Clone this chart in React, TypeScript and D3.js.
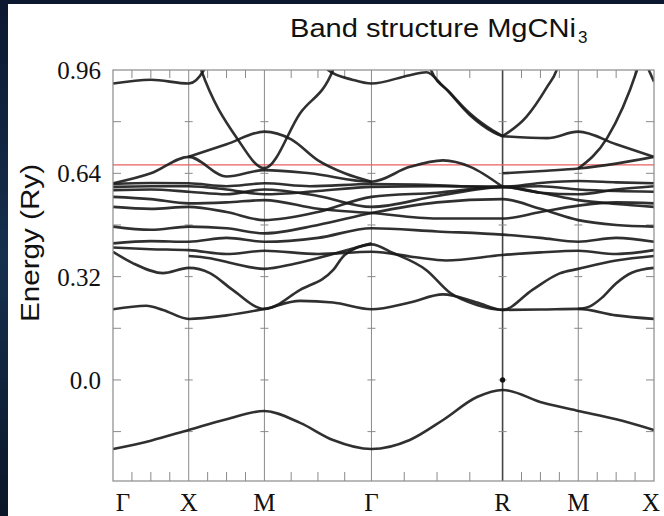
import React from 'react';
import * as d3 from 'd3';

const W = 664, H = 516;
const symLabels = ['Γ', 'X', 'M', 'Γ', 'R', 'M', 'X'];
const symK = [0, 0.5, 1.0, 1.707, 2.573, 3.073, 3.573];
const yTickValues = [0.0, 0.32, 0.64, 0.96];
const yTickLabels = ['0.0', '0.32', '0.64', '0.96'];
const yMinorTicks = [-0.16, 0, 0.16, 0.32, 0.48, 0.64, 0.8];
const fermiLevel = 0.666;
const gammaDot = [2.573, 0.0];
const titleText = 'Band structure MgCNi';
const titleSub = '3';
const yAxisTitle = 'Energy (Ry)';

// bands: [k, E(Ry)]
const bandLow = [[0,-0.214],[0.25,-0.188],[0.5,-0.155],[0.75,-0.122],[1.0,-0.096],[1.236,-0.133],[1.453,-0.186],[1.707,-0.214],[1.96,-0.186],[2.18,-0.124],[2.404,-0.053],[2.573,-0.031],[2.84,-0.071],[3.073,-0.096],[3.323,-0.122],[3.573,-0.155]];
const bandA = [[0,0.219],[0.22,0.23],[0.33,0.217],[0.5,0.189],[0.75,0.2],[1.0,0.22],[1.236,0.245],[1.453,0.24],[1.707,0.219],[1.96,0.24],[2.18,0.265],[2.404,0.24],[2.573,0.217],[2.823,0.218],[3.073,0.22],[3.323,0.2],[3.573,0.189]];
const bandB = [[0,0.397],[0.13,0.362],[0.33,0.331],[0.5,0.347],[0.64,0.331],[0.79,0.279],[1.0,0.22],[1.236,0.279],[1.453,0.34],[1.53,0.387],[1.707,0.42],[1.85,0.393],[2.07,0.34],[2.226,0.27],[2.404,0.232],[2.573,0.217],[2.77,0.279],[2.95,0.33],[3.073,0.344],[3.323,0.37],[3.573,0.384]];
const bandC = [[3.073,0.22],[3.15,0.228],[3.23,0.255],[3.32,0.298],[3.43,0.333],[3.573,0.347]];
const bandD = [[0,0.41],[0.25,0.405],[0.5,0.402],[0.75,0.39],[1.0,0.4],[1.354,0.39],[1.707,0.397],[2.0,0.38],[2.2,0.37],[2.573,0.387],[2.823,0.395],[3.073,0.4],[3.323,0.39],[3.573,0.402]];
const bandD2 = [[0.5,0.384],[0.64,0.377],[0.8,0.36],[1.0,0.344],[1.2,0.36],[1.453,0.39],[1.707,0.423]];
const bandK = [[0,0.423],[0.25,0.43],[0.5,0.428],[0.75,0.44],[1.0,0.428],[1.354,0.44],[1.707,0.47],[2.14,0.46],[2.573,0.45],[2.823,0.44],[3.073,0.428],[3.323,0.44],[3.573,0.428]];
const bandE = [[0,0.475],[0.25,0.465],[0.5,0.475],[0.75,0.47],[1.0,0.454],[1.354,0.48],[1.707,0.517],[2.14,0.55],[2.573,0.56],[2.823,0.53],[3.073,0.495],[3.323,0.48],[3.573,0.475]];
const bandF = [[0,0.536],[0.25,0.53],[0.5,0.536],[0.75,0.52],[1.0,0.495],[1.354,0.52],[1.707,0.567],[2.14,0.58],[2.573,0.598],[2.823,0.58],[3.073,0.557],[3.323,0.545],[3.573,0.536]];
const bandG = [[0,0.567],[0.25,0.56],[0.5,0.547],[0.75,0.55],[1.0,0.557],[1.354,0.53],[1.707,0.517],[2.14,0.5],[2.573,0.5],[2.823,0.52],[3.073,0.54],[3.323,0.55],[3.573,0.547]];
const bandH = [[0,0.588],[0.25,0.59],[0.5,0.583],[0.75,0.575],[1.0,0.59],[1.354,0.57],[1.707,0.536],[2.14,0.57],[2.573,0.598],[2.823,0.6],[3.073,0.59],[3.323,0.585],[3.573,0.583]];
const bandI = [[0,0.607],[0.25,0.61],[0.5,0.609],[0.75,0.6],[1.0,0.609],[1.3,0.6],[1.707,0.607],[2.0,0.605],[2.3,0.6],[2.573,0.598],[2.823,0.61],[3.073,0.616],[3.323,0.612],[3.573,0.609]];
const bandJ = [[0,0.598],[0.25,0.6],[0.5,0.6],[0.75,0.59],[1.0,0.575],[1.354,0.585],[1.707,0.598],[2.14,0.6],[2.573,0.598],[2.823,0.58],[3.073,0.575],[3.323,0.59],[3.573,0.6]];
const bandHump = [[0,0.609],[0.25,0.64],[0.5,0.691],[0.75,0.63],[1.0,0.65],[1.3,0.64],[1.707,0.614],[1.96,0.66],[2.18,0.68],[2.36,0.66],[2.573,0.598]];
const bandPeak = [[0.5,0.691],[0.75,0.73],[1.0,0.769],[1.177,0.745],[1.354,0.68],[1.53,0.64],[1.707,0.614]];
const bandPeakR = [[2.573,0.755],[2.866,0.749],[3.073,0.769],[3.323,0.73],[3.573,0.691]];
const bandLowR = [[2.573,0.64],[2.866,0.648],[3.073,0.655],[3.323,0.67],[3.573,0.691]];
const bandVLeft = [[0.52,1.05],[0.575,0.97],[0.82,0.748],[1.0,0.656],[1.236,0.826],[1.453,0.96],[1.52,1.05]];
const bandVRight = [[3.073,0.655],[3.263,0.749],[3.461,0.96],[3.52,1.05]];
const bandTopL = [[0,0.918],[0.25,0.93],[0.5,0.918],[0.6,0.96],[0.68,1.05]];
const bandTopR = [[3.5,1.0],[3.573,0.924]];
const bandTopG = [[1.38,1.05],[1.42,0.96],[1.58,0.93],[1.707,0.918],[1.96,0.944],[2.07,0.953],[2.18,0.91],[2.358,0.82],[2.51,0.768],[2.573,0.755]];
const bandTopG2 = [[2.04,1.05],[2.1,0.96],[2.226,0.89],[2.358,0.825],[2.51,0.772],[2.573,0.755]];
const bandRsteep = [[2.573,0.755],[2.73,0.815],[2.866,0.907],[2.93,0.96],[2.98,1.05]];

const bands = [bandLow, bandA, bandB, bandC, bandD, bandD2, bandK, bandE, bandF, bandG, bandH, bandI, bandJ, bandHump, bandPeak, bandPeakR, bandLowR, bandVLeft, bandVRight, bandTopL, bandTopR, bandTopG, bandTopG2, bandRsteep];

const L = 113, R = 654, T = 70, B = 481;

export default function App() {
  const x = d3.scaleLinear().domain([0, symK[symK.length - 1]]).range([L, R]);
  const y = d3.scaleLinear().domain([-0.313, 0.96]).range([B, T]);
  const line = d3.line<number[]>().x(d => x(d[0])).y(d => y(d[1])).curve(d3.curveMonotoneX);
  const kTicks: number[] = [];
  for (let i = 0; i < symK.length - 1; i++) {
    for (let j = 1; j < 4; j++) kTicks.push(symK[i] + (symK[i + 1] - symK[i]) * j / 4);
  }
  const interior = symK.slice(1, -1);
  const axisColor = '#8a8a8a';
  return (
    <svg width={W} height={H} style={{ position: 'absolute', left: 0, top: 0, display: 'block' }}>
      <defs>
        <linearGradient id="bg" x1="0" y1="0" x2="0" y2="1">
          <stop offset="0" stopColor="#0c1830" />
          <stop offset="0.5" stopColor="#15304f" />
          <stop offset="1" stopColor="#0b1628" />
        </linearGradient>
        <clipPath id="plotclip"><rect x={L} y={T} width={R - L} height={B - T} /></clipPath>
      </defs>
      <rect x={0} y={0} width={W} height={H} fill="url(#bg)" />
      <rect x={8} y={4} width={W - 8} height={H - 4} fill="#ffffff" />
      <text x={290} y={37} fontFamily="Liberation Sans, Arial, sans-serif" fontSize={26} fill="#111" textLength={286} lengthAdjust="spacingAndGlyphs">{titleText}</text>
      <text x={578} y={43} fontFamily="Liberation Sans, Arial, sans-serif" fontSize={17} fill="#111">{titleSub}</text>
      <text transform={`translate(39,243) rotate(-90)`} textAnchor="middle" fontFamily="Liberation Sans, Arial, sans-serif" fontSize={26} fill="#111" textLength={158} lengthAdjust="spacingAndGlyphs">{yAxisTitle}</text>
      {yTickValues.map((v, i) => (
        <text key={'yl' + i} x={101} y={y(v) + 9} textAnchor="end" fontFamily="Liberation Serif, Times New Roman, serif" fontSize={25} fill="#111">{yTickLabels[i]}</text>
      ))}
      {interior.map((k, i) => (
        <line key={'v' + i} x1={x(k)} x2={x(k)} y1={T} y2={B} stroke={symLabels[i + 1] === 'R' ? '#444' : axisColor} strokeWidth={symLabels[i + 1] === 'R' ? 1.6 : 1} />
      ))}
      {yMinorTicks.map((v, i) => (
        <g key={'yt' + i}>
          <line x1={L} x2={L + 8} y1={y(v)} y2={y(v)} stroke={axisColor} strokeWidth={1} />
          <line x1={R - 8} x2={R} y1={y(v)} y2={y(v)} stroke={axisColor} strokeWidth={1} />
          {interior.map((k, j) => (
            <line key={j} x1={x(k) - 4} x2={x(k) + 4} y1={y(v)} y2={y(v)} stroke={axisColor} strokeWidth={1} />
          ))}
        </g>
      ))}
      {kTicks.map((k, i) => (
        <g key={'kt' + i}>
          <line x1={x(k)} x2={x(k)} y1={T} y2={T + 8} stroke={axisColor} strokeWidth={1} />
          <line x1={x(k)} x2={x(k)} y1={B} y2={B - 9} stroke={axisColor} strokeWidth={1} />
        </g>
      ))}
      <line x1={L} x2={R} y1={y(fermiLevel)} y2={y(fermiLevel)} stroke="#e86060" strokeWidth={1.2} />
      <g clipPath="url(#plotclip)">
        {bands.map((b, i) => (
          <path key={'b' + i} d={line(b as number[][]) || ''} fill="none" stroke="#1a1a1a" strokeWidth={2.6} strokeOpacity={0.9} />
        ))}
        <circle cx={x(gammaDot[0])} cy={y(gammaDot[1])} r={2.6} fill="#111" />
      </g>
      <rect x={L} y={T} width={R - L} height={B - T} fill="none" stroke={axisColor} strokeWidth={1.2} />
      {symK.map((k, i) => (
        <text key={'xl' + i} x={Math.min(Math.max(x(k), L + 10), R - 3)} y={511} textAnchor="middle" fontFamily="Liberation Serif, Times New Roman, serif" fontSize={25} fill="#111">{symLabels[i]}</text>
      ))}
    </svg>
  );
}
